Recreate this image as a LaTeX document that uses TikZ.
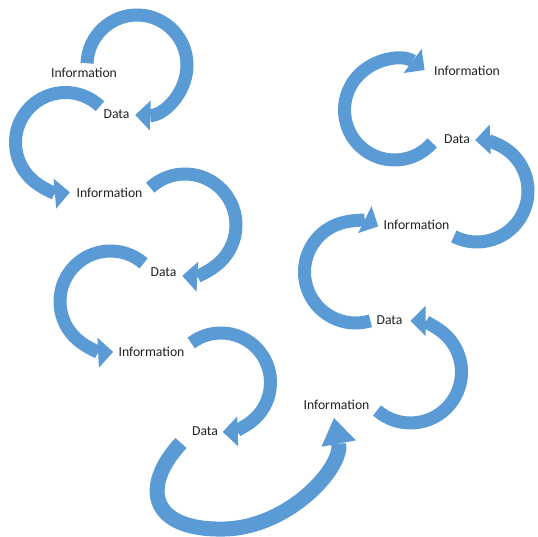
\documentclass[tikz,border=0pt]{standalone}
\usepackage{fontspec}
\setmainfont{Carlito}
\usetikzlibrary{arrows.meta}
\definecolor{arrowblue}{HTML}{5B9BD5}
\definecolor{txt}{HTML}{222222}
\tikzset{
  arr/.style={draw=arrowblue, line width=13pt, line cap=butt,
    -{Triangle[width=30pt,length=15pt,line width=0pt]}},
  bigarr/.style={draw=arrowblue, line width=15pt, line cap=butt,
    -{Triangle[width=35pt,length=26pt,line width=0pt]}},
  lbl/.style={anchor=base, inner sep=0pt, text=txt, font=\fontsize{13.7}{16}\selectfont}
}
\begin{document}
\begin{tikzpicture}[x=1pt,y=1pt]
\fill[white] (0,0) rectangle (538,537);
\useasboundingbox (0,0) rectangle (538,537);

% arc centres
\coordinate (c1) at (137,472);
\coordinate (c2) at (65.5,394.5);
\coordinate (c3) at (185,312);
\coordinate (c4) at (110.5,235.5);
\coordinate (c5) at (221,154.5);
\coordinate (c7) at (394.5,427);
\coordinate (c8) at (477,346);
\coordinate (c9) at (355.5,265);
\coordinate (c10) at (410.5,165);

% arrows
\draw[arr] ([shift={(178:50)}]c1) arc[start angle=178, end angle=-92, radius=50];
\draw[arr] ([shift={(46.5:50)}]c2) arc[start angle=46.5, end angle=275, radius=50];
\draw[arr] ([shift={(133:51)}]c3) arc[start angle=133, end angle=-93, radius=51];
\draw[arr] ([shift={(49:50.5)}]c4) arc[start angle=49, end angle=273, radius=50.5];
\draw[arr] ([shift={(127:49.5)}]c5) arc[start angle=127, end angle=-88, radius=49.5];
\draw[bigarr] (181,94) .. controls (140,50) and (150,6) .. (225,8)
                      .. controls (290,10) and (343,70) .. (334,119);
\draw[arr] ([shift={(-41:50)}]c7) arc[start angle=-41, end angle=-307, radius=50];
\draw[arr] ([shift={(-117:51)}]c8) arc[start angle=-117, end angle=92, radius=51];
\draw[arr] ([shift={(-73:51)}]c9) arc[start angle=-73, end angle=-296.5, radius=51];
\draw[arr] ([shift={(-131:51)}]c10) arc[start angle=-131, end angle=90, radius=51];

% labels
\node[lbl] (t1) at (84,459) {Information};
\node[lbl] (t2) at (116.5,418) {Data};
\node[lbl] (t3) at (109.5,339) {Information};
\node[lbl] (t4) at (163.5,260) {Data};
\node[lbl] (t5) at (151.5,180) {Information};
\node[lbl] (t6) at (205,101) {Data};
\node[lbl] (t7) at (467,461) {Information};
\node[lbl] (t8) at (457,393) {Data};
\node[lbl] (t9) at (416.5,307) {Information};
\node[lbl] (t10) at (389.5,212) {Data};
\node[lbl] (t11) at (336.5,127) {Information};
\end{tikzpicture}
\end{document}
